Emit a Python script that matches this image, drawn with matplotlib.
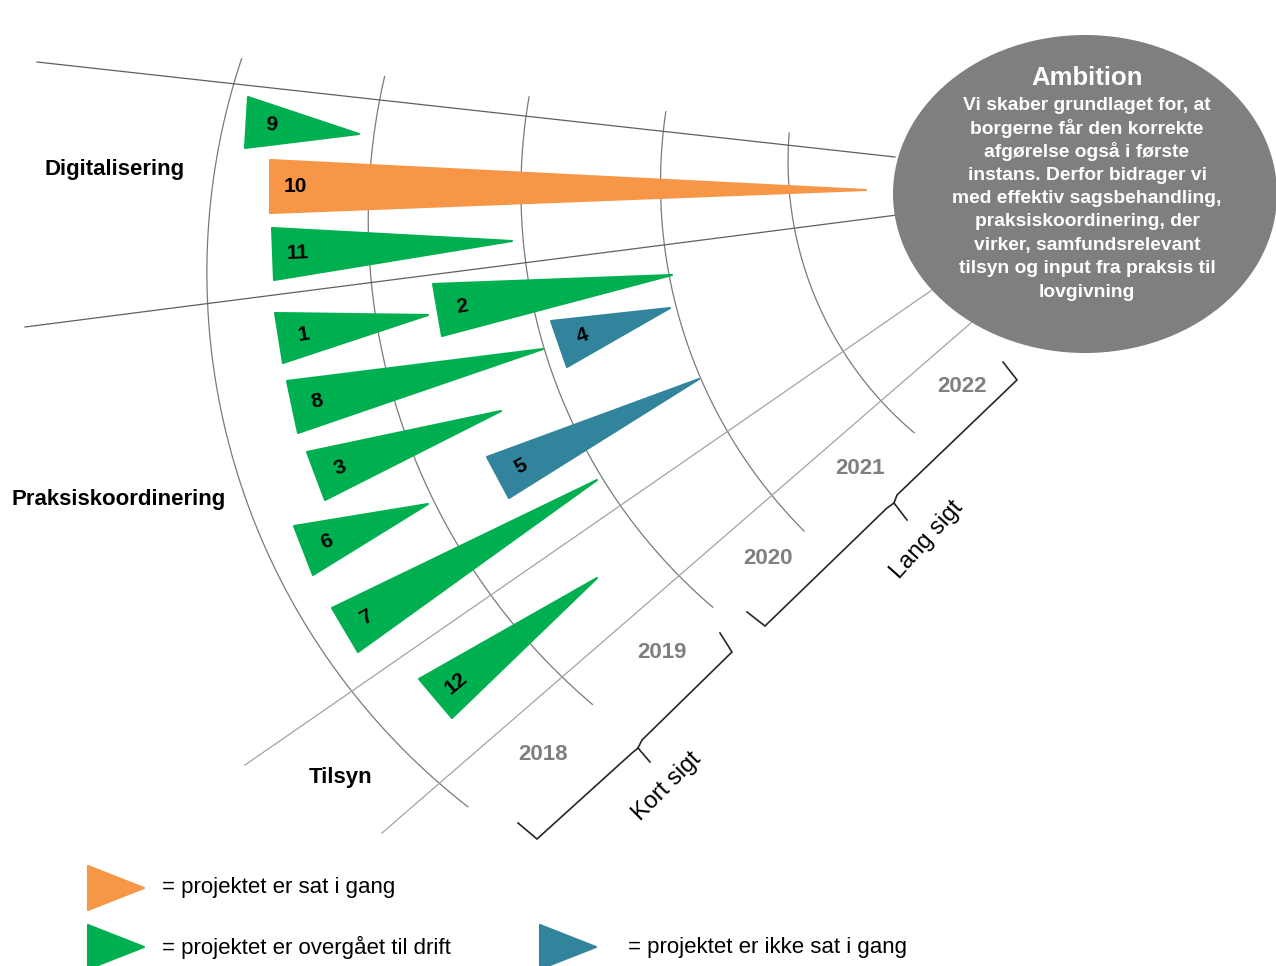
import numpy as np
import matplotlib
matplotlib.use('Agg')
import matplotlib.pyplot as plt
from matplotlib.patches import Polygon, Ellipse

plt.rcParams['font.family'] = ['Liberation Sans', 'DejaVu Sans']

W, H = 1276, 966

# --- values (pixel space, y pointing down) ---
categories = ['Digitalisering', 'Praksiskoordinering', 'Tilsyn']
category_pos = [(115, 170), (119, 500), (341, 778)]

years = ['2018', '2019', '2020', '2021', '2022']
year_pos = [(543, 755), (662, 652), (768, 558), (860, 468), (962, 387)]

# points sampled along each year arc, top -> bottom end
arc_pts = [
    [(245, 60), (209, 170), (208, 300), (293, 597), (467, 808)],
    [(387, 77), (367, 170), (368, 257), (408, 433), (592, 705)],
    [(530, 97), (519, 170), (537, 313), (620, 507), (713, 607)],
    [(667, 112), (660, 170), (663, 250), (730, 430), (803, 532)],
    [(790, 133), (787, 170), (793, 220), (843, 350), (914, 433)],
]

# lines splitting the three areas
sector_lines = [((37, 62), (895, 157)), ((25, 327), (897, 215)),
                ((245, 765), (932, 290)), ((382, 833), (972, 322))]
sector_colors = ['#5f5f5f', '#5f5f5f', '#a3a3a3', '#a3a3a3']

# projects: number, status, base end 1, base end 2, tip
proj_ids = ['9', '10', '11', '1', '2', '4', '8', '3', '5', '6', '7', '12']
proj_status = ['drift', 'gang', 'drift', 'drift', 'drift', 'ikke',
               'drift', 'drift', 'ikke', 'drift', 'drift', 'drift']
base_top = [(248, 97), (270, 160), (272, 228), (275, 313), (433, 284), (551, 321),
            (287, 381), (307, 452), (487, 457), (294, 526), (332, 608), (419, 679)]
base_bot = [(245, 148), (270, 213), (274, 280), (283, 363), (442, 336), (567, 367),
            (298, 433), (325, 500), (509, 498), (313, 575), (358, 652), (452, 718)]
tips = [(359, 134), (866, 190), (512, 241), (428, 315), (672, 275), (670, 308),
        (543, 349), (501, 411), (699, 379), (428, 504), (597, 480), (597, 578)]

status_colors = {'gang': '#f79646', 'drift': '#00b050', 'ikke': '#31849b'}

ambition_title = 'Ambition'
ambition_lines = ['Vi skaber grundlaget for, at',
                  'borgerne får den korrekte',
                  'afgørelse også i første',
                  'instans. Derfor bidrager vi',
                  'med effektiv sagsbehandling,',
                  'praksiskoordinering, der',
                  'virker, samfundsrelevant',
                  'tilsyn og input fra praksis til',
                  'lovgivning']

bracket_labels = ['Kort sigt', 'Lang sigt']
bracket_label_pos = [(667, 787), (927, 540)]
brackets = [
    [[(518, 823), (537, 839), (632, 753), (638, 748)],
     [(638, 748), (650, 762)],
     [(638, 748), (642, 740), (732, 652), (720, 633)]],
    [[(747, 612), (765, 626), (887, 508), (894, 503)],
     [(894, 503), (907, 520)],
     [(894, 503), (897, 495), (1017, 380), (1003, 362)]],
]

legend_text = ['= projektet er sat i gang', '= projektet er overgået til drift',
               '= projektet er ikke sat i gang']
legend_status = ['gang', 'drift', 'ikke']
legend_pos = [(88, 888), (88, 947), (540, 947)]
legend_text_x = [162, 162, 628]


def fit_circle(pts):
    p = np.asarray(pts, float)
    A = np.c_[2 * p[:, 0], 2 * p[:, 1], np.ones(len(p))]
    b = (p ** 2).sum(1)
    cx, cy, c = np.linalg.lstsq(A, b, rcond=None)[0]
    return cx, cy, np.sqrt(c + cx ** 2 + cy ** 2)


fig = plt.figure(figsize=(W / 100, H / 100), dpi=100)
ax = fig.add_axes([0, 0, 1, 1])
ax.set_xlim(0, W)
ax.set_ylim(H, 0)
ax.axis('off')

# year arcs
for pts in arc_pts:
    cx, cy, r = fit_circle(pts)
    p = np.asarray(pts, float)
    a = np.unwrap(np.arctan2(p[:, 1] - cy, p[:, 0] - cx))
    t = np.linspace(a[0], a[-1], 300)
    ax.plot(cx + r * np.cos(t), cy + r * np.sin(t), color='#7a7a7a', lw=0.9, zorder=1)

for (p0, p1), col in zip(sector_lines, sector_colors):
    ax.plot([p0[0], p1[0]], [p0[1], p1[1]], color=col, lw=0.9, zorder=1)

# project triangles
for pid, st, b1, b2, tp in zip(proj_ids, proj_status, base_top, base_bot, tips):
    col = status_colors[st]
    ax.add_patch(Polygon([b1, tp, b2], closed=True, facecolor=col, edgecolor=col,
                         lw=1.5, joinstyle='round', zorder=2))
    mid = (np.array(b1) + np.array(b2)) / 2
    d = np.array(tp) - mid
    d = d / np.hypot(*d)
    lx, ly = mid + 25 * d
    bv = np.array(b2) - np.array(b1)
    rot = np.degrees(np.arctan2(bv[0], bv[1]))
    ax.text(lx, ly, pid, fontsize=15, fontweight='bold', color='black',
            ha='center', va='center', rotation=rot, zorder=3)

# ambition ellipse
ax.add_patch(Ellipse((1085, 194), 384, 318, facecolor='#7f7f7f', edgecolor='none', zorder=4))
ax.text(1087, 78, ambition_title, fontsize=18.5, fontweight='bold', color='white',
        ha='center', va='center', zorder=5)
for i, line in enumerate(ambition_lines):
    ax.text(1087, 105 + i * 23.4, line, fontsize=13.9, fontweight='bold', color='white',
            ha='center', va='center', zorder=5)

for name, (x, y) in zip(categories, category_pos):
    ax.text(x, y, name, fontsize=16, fontweight='bold', color='black', ha='center', va='center')

for yr, (x, y) in zip(years, year_pos):
    ax.text(x, y, yr, fontsize=16, fontweight='bold', color='#7f7f7f', ha='center', va='center')

for segs in brackets:
    for seg in segs:
        s = np.asarray(seg)
        ax.plot(s[:, 0], s[:, 1], color='#262626', lw=1.2, solid_joinstyle='miter')

for lab, (x, y), rot in zip(bracket_labels, bracket_label_pos, [45, 48]):
    ax.text(x, y, lab, fontsize=17, color='black', ha='center', va='center', rotation=rot)

# legend
for txt, st, (x, y), tx in zip(legend_text, legend_status, legend_pos, legend_text_x):
    col = status_colors[st]
    ax.add_patch(Polygon([(x, y - 22), (x + 56, y), (x, y + 22)], closed=True,
                         facecolor=col, edgecolor=col, lw=1.5, joinstyle='round'))
    ax.text(tx, y, txt, fontsize=16, color='black', ha='left', va='center')

fig.savefig('out.png', dpi=100)
